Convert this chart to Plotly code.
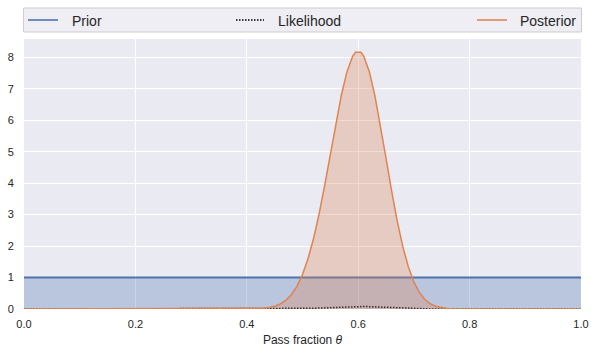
import plotly.graph_objects as go

# ---- data ----
prior_theta = [0.0, 1.0]
prior_density = [1.0, 1.0]

theta = [0.0, 0.40, 0.41, 0.42, 0.43, 0.44, 0.45, 0.46, 0.47, 0.48, 0.49,
         0.50, 0.51, 0.52, 0.53, 0.54, 0.55, 0.56, 0.57, 0.58, 0.59,
         0.595, 0.605, 0.61, 0.62, 0.63, 0.64, 0.65, 0.66, 0.67, 0.68, 0.69,
         0.70, 0.71, 0.72, 0.73, 0.74, 0.75, 0.76, 0.77, 0.78, 0.79, 0.80, 1.0]

posterior = [0.0, 0.0025, 0.0055, 0.0119, 0.0243, 0.0475, 0.089, 0.160, 0.275, 0.454, 0.720,
             1.095, 1.601, 2.250, 3.039, 3.947, 4.928, 5.912, 6.817, 7.550, 8.032,
             8.16, 8.16, 8.030, 7.537, 6.774, 5.824, 4.785, 3.751, 2.802, 1.990, 1.342,
             0.857, 0.518, 0.294, 0.157, 0.0785, 0.0366, 0.0158, 0.0063, 0.0023, 0.0008, 0.0002, 0.0]

likelihood = [0.0, 0.0000, 0.0001, 0.0001, 0.0002, 0.0005, 0.0009, 0.0016, 0.0027, 0.0045, 0.0071,
              0.0108, 0.0159, 0.0223, 0.0301, 0.0391, 0.0488, 0.0585, 0.0675, 0.0748, 0.0795,
              0.0808, 0.0808, 0.0795, 0.0746, 0.0671, 0.0577, 0.0474, 0.0371, 0.0277, 0.0197, 0.0133,
              0.0085, 0.0051, 0.0029, 0.0016, 0.0008, 0.0004, 0.0002, 0.0001, 0.0, 0.0, 0.0, 0.0]

series_names = ["Prior", "Likelihood", "Posterior"]
x_ticks = [0.0, 0.2, 0.4, 0.6, 0.8, 1.0]
y_ticks = [0, 1, 2, 3, 4, 5, 6, 7, 8]

BLUE = "#4C72B0"
ORANGE = "#DD8452"
FONT = "Liberation Sans, Arial, sans-serif"
TXT = "#262626"
DOT = "1.5px,1.5px"

W, H = 595, 353
ML, MR, MT, MB = 24, 14, 39, 44
PW, PH = W - ML - MR, H - MT - MB


def px_x(px):
    return (px - ML) / PW


def px_y(py):
    return (H - MB - py) / PH


fig = go.Figure()
fig.add_trace(go.Scatter(x=prior_theta, y=prior_density, mode="lines", name=series_names[0],
                         line=dict(color=BLUE, width=2), fill="tozeroy",
                         fillcolor="rgba(76,114,176,0.3)", showlegend=False))
fig.add_trace(go.Scatter(x=theta, y=likelihood, mode="lines", name=series_names[1],
                         line=dict(color="black", width=1.5, dash=DOT), showlegend=False))
fig.add_trace(go.Scatter(x=theta, y=posterior, mode="lines", name=series_names[2],
                         line=dict(color=ORANGE, width=1.5), fill="tozeroy",
                         fillcolor="rgba(221,132,82,0.3)", showlegend=False))

# ---- legend drawn as a framed box above the axes (expanded across full width) ----
shapes = [dict(type="rect", xref="paper", yref="paper",
               x0=px_x(ML - 0.5), x1=px_x(W - MR + 0.5), y0=px_y(32), y1=px_y(8),
               line=dict(color="#CDCDCD", width=1), fillcolor="#EEEEF4", layer="above")]
legend_items = [
    (series_names[0], 28, 58, 70, dict(color=BLUE, width=1.6)),
    (series_names[1], 236, 264, 276, dict(color="black", width=1.5, dash=DOT)),
    (series_names[2], 477, 507, 518, dict(color=ORANGE, width=1.6)),
]
annotations = []
for name, lx0, lx1, tx, ln in legend_items:
    shapes.append(dict(type="line", xref="paper", yref="paper",
                       x0=px_x(lx0), x1=px_x(lx1), y0=px_y(20), y1=px_y(20),
                       line=ln, layer="above"))
    annotations.append(dict(text=name, xref="paper", yref="paper", x=px_x(tx), y=px_y(20.5),
                            xanchor="left", yanchor="middle", showarrow=False,
                            font=dict(family=FONT, size=14, color=TXT)))

fig.update_layout(
    width=W, height=H,
    margin=dict(l=ML, r=MR, t=MT, b=MB, autoexpand=False),
    paper_bgcolor="white", plot_bgcolor="#EAEAF2",
    font=dict(family=FONT, size=11, color=TXT),
    showlegend=False,
    shapes=shapes, annotations=annotations,
)
fig.update_xaxes(range=[0, 1], tickvals=x_ticks, ticktext=[f"{v:.1f}" for v in x_ticks],
                 showgrid=True, gridcolor="white", gridwidth=1, zeroline=False,
                 showline=False, ticks="outside", ticklen=5, tickcolor="rgba(0,0,0,0)",
                 tickfont=dict(size=11), automargin=False,
                 title=dict(text="Pass fraction <i>θ</i>", standoff=6, font=dict(size=12)))
fig.update_yaxes(range=[0, 8.58], tickvals=y_ticks, showgrid=True, gridcolor="white",
                 gridwidth=1, zeroline=False, showline=False, ticks="outside", ticklen=7,
                 tickcolor="rgba(0,0,0,0)", tickfont=dict(size=11), automargin=False)

fig.write_html("out.html")
